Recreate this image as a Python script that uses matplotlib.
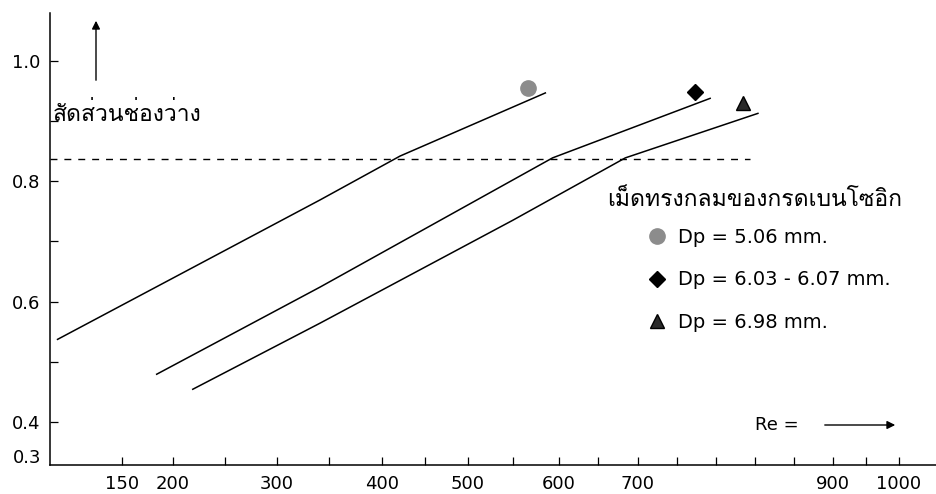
import numpy as np
import matplotlib
matplotlib.use('Agg')
import matplotlib.pyplot as plt
from matplotlib import font_manager
from matplotlib.ft2font import FT2Font

# Re axis of the scanned graph is ruled by hand, labels are not evenly spaced
re_tick_values = [150, 200, 300, 400, 500, 600, 700, 900, 1000]
re_tick_labels = ['150', '200', '300', '400', '500', '600', '700', '900', '1000']
re_minor_ticks = [250, 350, 450, 550, 650, 740, 780, 820, 860, 950]
eps_tick_values = [0.4, 0.6, 0.8, 1.0]
eps_tick_labels = ['0.4', '0.6', '0.8', '1.0']
eps_minor_ticks = [0.5, 0.7, 0.9]

# void fraction vs Re, one curve per particle size
re_a = [87, 341, 421, 585]
eps_a = [0.537, 0.769, 0.842, 0.947]
re_b = [184, 341, 593, 774]
eps_b = [0.479, 0.624, 0.839, 0.938]
re_c = [219, 341, 549, 684, 823]
eps_c = [0.454, 0.564, 0.735, 0.839, 0.913]

# measured points at top of each curve
re_pts = [566, 758, 808]
eps_pts = [0.955, 0.948, 0.930]

eps_ref = 0.837
re_ref_end = 815

labels = ['Dp = 5.06 mm.', 'Dp = 6.03 - 6.07 mm.', 'Dp = 6.98 mm.']
legend_title = 'เม็ดทรงกลมของกรดเบนโซอิก'
ylabel = 'สัดส่วนช่องว่าง'

# piecewise ruler: Re -> position along the drawn axis
re_ruler = [20, 150, 200, 300, 400, 500, 600, 700, 900, 1000, 1200]
pos_ruler = [-11, 122, 173, 277, 382, 468, 559, 638, 833, 899, 1031]


def fwd(r):
    return np.interp(r, re_ruler, pos_ruler)


def inv(p):
    return np.interp(p, pos_ruler, re_ruler)


def thai_family():
    for f in font_manager.fontManager.ttflist:
        try:
            if ord('ก') in FT2Font(f.fname).get_charmap():
                return f.name
        except Exception:
            pass
    return 'DejaVu Sans'


thai = [thai_family(), 'DejaVu Sans']

W, H = 936, 494


def fx(px):
    return px / W


def fy(py):
    return 1 - py / H


fig = plt.figure(figsize=(W / 100, H / 100), dpi=100)
ax = fig.add_axes([fx(50), fy(465), 1 - fx(50), (465 - 13) / H])

ax.set_xscale('function', functions=(fwd, inv))
ax.set_xlim(inv(50), inv(936))
ax.set_ylim(0.328, 1.08)

ax.plot(re_a, eps_a, color='black', lw=1.1)
ax.plot(re_b, eps_b, color='black', lw=1.1)
ax.plot(re_c, eps_c, color='black', lw=1.1)
ax.plot([inv(50), re_ref_end], [eps_ref, eps_ref], color='black', lw=1.0,
        linestyle=(0, (5, 5)))

h1, = ax.plot(re_pts[0], eps_pts[0], 'o', color='#8c8c8c', ms=11, mec='#8c8c8c')
h2, = ax.plot(re_pts[1], eps_pts[1], 'D', color='black', ms=8)
h3, = ax.plot(re_pts[2], eps_pts[2], '^', color='black', mfc='#2a2a2a', ms=10)

for s in ['top', 'right']:
    ax.spines[s].set_visible(False)
for s in ['left', 'bottom']:
    ax.spines[s].set_linewidth(1.1)

ax.set_xticks(re_tick_values, re_tick_labels)
ax.set_xticks(re_minor_ticks, minor=True)
ax.set_yticks(eps_tick_values, eps_tick_labels)
ax.set_yticks(eps_minor_ticks, minor=True)
ax.tick_params(which='both', direction='in', length=6, width=0.9, colors='black')
ax.tick_params(axis='x', labelsize=13, pad=7)
ax.tick_params(axis='y', labelsize=13, pad=7)
ax.text(-9 / 886, 0.328 + 7 / 601, '0.3', transform=ax.get_yaxis_transform(),
        ha='right', va='center', fontsize=13)

# axis captions
fig.text(fx(53), fy(114), ylabel, family=thai, fontsize=16.5, va='center', ha='left')
ax.annotate('', xy=(fx(96), fy(18)), xytext=(fx(96), fy(83)),
            xycoords='figure fraction', textcoords='figure fraction',
            arrowprops=dict(arrowstyle='-|>', color='black', lw=1.0, mutation_scale=12))
fig.text(fx(755), fy(425), 'Re =', fontsize=13, va='center', ha='left')
ax.annotate('', xy=(fx(898), fy(425)), xytext=(fx(822), fy(425)),
            xycoords='figure fraction', textcoords='figure fraction',
            arrowprops=dict(arrowstyle='-|>', color='black', lw=1.0, mutation_scale=12))

# legend
fig.text(fx(607), fy(200), legend_title, family=thai, fontsize=16.5, va='center', ha='left')
fig.legend([h1, h2, h3], labels, loc='upper left',
           bbox_to_anchor=(fx(647), fy(228)), frameon=False, fontsize=14,
           handlelength=1.0, handletextpad=0.6, labelspacing=1.2,
           borderpad=0, borderaxespad=0)

fig.savefig('out.png', dpi=100)
